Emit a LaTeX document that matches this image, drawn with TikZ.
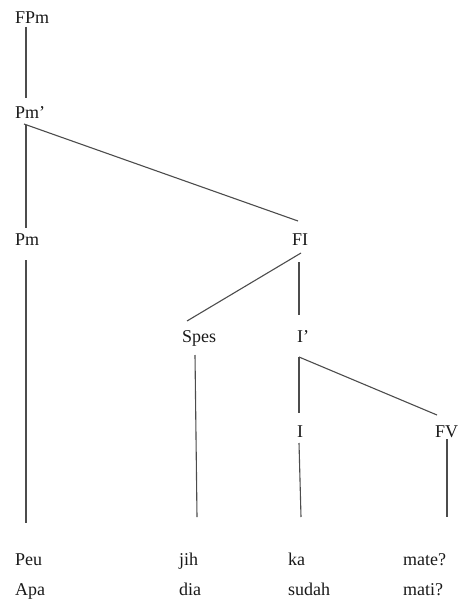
\documentclass[tikz,border=0pt]{standalone}
\usepackage{fontspec}
\setmainfont{Liberation Serif}

\begin{document}
\begin{tikzpicture}[x=1pt, y=-1pt,
  cat/.style={anchor=base west, inner sep=0pt, font=\rmfamily\fontsize{18}{20}\selectfont, text=black!90},
  branch/.style={line width=1.1pt, draw=black!70}]
  \useasboundingbox (0,0) rectangle (458,602);

  % Categories
  \node[cat] (FPm)  at (15,24)   {FPm};
  \node[cat] (Pmb)  at (15,118)  {Pm'};
  \node[cat] (Pm)   at (15,245)  {Pm};
  \node[cat] (FI)   at (292,245) {FI};
  \node[cat] (Spes) at (182,342) {Spes};
  \node[cat] (Ib)   at (297,342) {I'};
  \node[cat] (I)    at (297,437) {I};
  \node[cat] (FV)   at (435,437) {FV};

  % Words, with the gloss underneath
  \node[cat] (peu)  at (15,565)  {Peu};
  \node[cat] (jih)  at (179,565) {jih};
  \node[cat] (ka)   at (288,565) {ka};
  \node[cat] (mate) at (403,565) {mate?};
  \node[cat] (apa)  at (15,595)  {Apa};
  \node[cat] (dia)  at (179,595) {dia};
  \node[cat] (sudah) at (288,595) {sudah};
  \node[cat] (mati) at (403,595) {mati?};

  % Branches
  \draw[branch] ([shift={(11,3)}]FPm.base west) -- ([shift={(11,-20)}]Pmb.base west);
  \draw[branch] ([shift={(11,7)}]Pmb.base west) -- ([shift={(11,-17)}]Pm.base west);
  \draw[branch] ([shift={(9,6)}]Pmb.base west) -- ([shift={(6,-24)}]FI.base west);
  \draw[branch] ([shift={(11,15)}]Pm.base west) -- ([shift={(11,-42)}]peu.base west);
  \draw[branch] ([shift={(9,8)}]FI.base west) -- ([shift={(5,-21)}]Spes.base west);
  \draw[branch] ([shift={(7,17)}]FI.base west) -- ([shift={(2,-27)}]Ib.base west);
  \draw[branch] ([shift={(13,13)}]Spes.base west) -- ([shift={(18,-48)}]jih.base west);
  \draw[branch] ([shift={(2,15)}]Ib.base west) -- ([shift={(2,-24)}]I.base west);
  \draw[branch] ([shift={(2,15)}]Ib.base west) -- ([shift={(2,-22)}]FV.base west);
  \draw[branch] ([shift={(2,6)}]I.base west) -- ([shift={(13,-48)}]ka.base west);
  \draw[branch] ([shift={(12,2)}]FV.base west) -- ([shift={(44,-48)}]mate.base west);
\end{tikzpicture}
\end{document}
